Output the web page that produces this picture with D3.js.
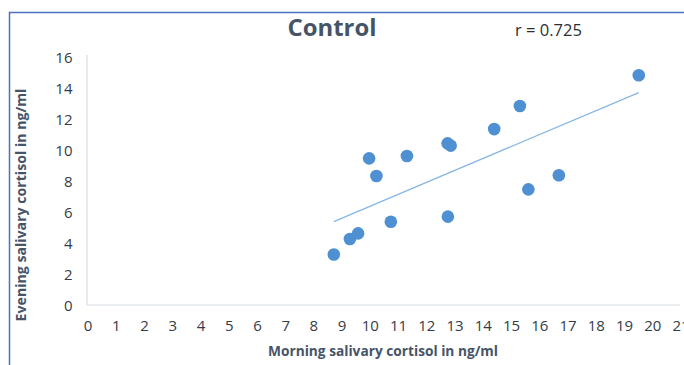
<!DOCTYPE html>
<html>
<head>
<meta charset="utf-8">
<script src="https://cdn.jsdelivr.net/npm/d3@7"></script>
<style>
  html, body { margin: 0; padding: 0; background: #fff; }
  svg { display: block; font-family: "Open Sans", Lato, sans-serif; }
</style>
</head>
<body>
<svg id="chart" width="684" height="365"></svg>
<script>
// Morning vs evening salivary cortisol (ng/ml), control group
const morning = [8.74, 9.31, 9.60, 9.99, 10.25, 10.76, 11.33, 12.77, 12.88, 12.78, 14.42, 15.33, 15.63, 16.71, 19.54];
const evening = [3.26, 4.26, 4.62, 9.46, 8.32, 5.37, 9.61, 10.43, 10.28, 5.70, 11.35, 12.84, 7.46, 8.37, 14.82];
const xTicks = d3.range(0, 22, 1);
const yTicks = d3.range(0, 17, 2);
const titleText = "Control";
const rText = "r = 0.725";
const xTitle = "Morning salivary cortisol in ng/ml";
const yTitle = "Evening salivary cortisol  in ng/ml";

const svg = d3.select("#chart");
const W = 684, H = 365;

const x = d3.scaleLinear().domain([0, 21]).range([87, 680]);
const y = d3.scaleLinear().domain([0, 16]).range([305, 57]);

// shrink/grow a text's font size so it spans the given width
function fitWidth(sel, width) {
  const node = sel.node();
  const fs = parseFloat(sel.attr("font-size"));
  const len = node.getComputedTextLength();
  if (len > 0) sel.attr("font-size", (fs * width / len).toFixed(2));
  return sel;
}

// outer frame (top and left edges visible)
svg.append("path")
  .attr("d", `M9.5,${H} L9.5,12.5 L${W},12.5`)
  .attr("fill", "none")
  .attr("stroke", "#4a72c0")
  .attr("stroke-width", 1.5);

// axis lines
const axisColor = "#d6dde8";
svg.append("line")
  .attr("x1", x(0)).attr("x2", x(21))
  .attr("y1", y(0)).attr("y2", y(0))
  .attr("stroke", axisColor).attr("stroke-width", 1.2);
svg.append("line")
  .attr("x1", x(0)).attr("x2", x(0))
  .attr("y1", y(0)).attr("y2", y(16) - 2)
  .attr("stroke", axisColor).attr("stroke-width", 1.2);

// tick labels
const tickColor = "#343c49";
svg.append("g").selectAll("text").data(xTicks).join("text")
  .attr("x", d => x(d) + 1)
  .attr("y", 331)
  .attr("text-anchor", "middle")
  .attr("font-size", 15)
  .attr("fill", tickColor)
  .text(d => d);

svg.append("g").selectAll("text").data(yTicks).join("text")
  .attr("x", 72.5)
  .attr("y", d => y(d) + 5.5)
  .attr("text-anchor", "end")
  .attr("font-size", 15)
  .attr("fill", tickColor)
  .text(d => d);

// least-squares trend line over the data range
const mx = d3.mean(morning), my = d3.mean(evening);
let sxy = 0, sxx = 0;
morning.forEach((v, i) => { sxy += (v - mx) * (evening[i] - my); sxx += (v - mx) * (v - mx); });
const slope = sxy / sxx, icpt = my - slope * mx;
const [x0, x1] = d3.extent(morning);
svg.append("line")
  .attr("x1", x(x0)).attr("y1", y(icpt + slope * x0))
  .attr("x2", x(x1)).attr("y2", y(icpt + slope * x1))
  .attr("stroke", "#86b6e3")
  .attr("stroke-width", 1.3);

// points
svg.append("g").selectAll("circle").data(morning).join("circle")
  .attr("cx", d => x(d))
  .attr("cy", (d, i) => y(evening[i]))
  .attr("r", 6.3)
  .attr("fill", "#4e90d2");

// titles
fitWidth(svg.append("text")
  .attr("x", 332).attr("y", 36)
  .attr("text-anchor", "middle")
  .attr("font-size", 22)
  .attr("font-weight", "bold")
  .attr("fill", "#465468")
  .text(titleText), 89);

fitWidth(svg.append("text")
  .attr("x", 515).attr("y", 36)
  .attr("font-size", 16)
  .attr("fill", "#2a2f36")
  .text(rText), 67);

fitWidth(svg.append("text")
  .attr("x", 383).attr("y", 356)
  .attr("text-anchor", "middle")
  .attr("font-size", 13)
  .attr("font-weight", "bold")
  .attr("fill", "#465468")
  .text(xTitle), 230);

fitWidth(svg.append("text")
  .attr("transform", "translate(26,205) rotate(-90)")
  .attr("text-anchor", "middle")
  .attr("font-size", 13)
  .attr("font-weight", "bold")
  .attr("fill", "#465468")
  .text(yTitle), 233);
</script>
</body>
</html>
